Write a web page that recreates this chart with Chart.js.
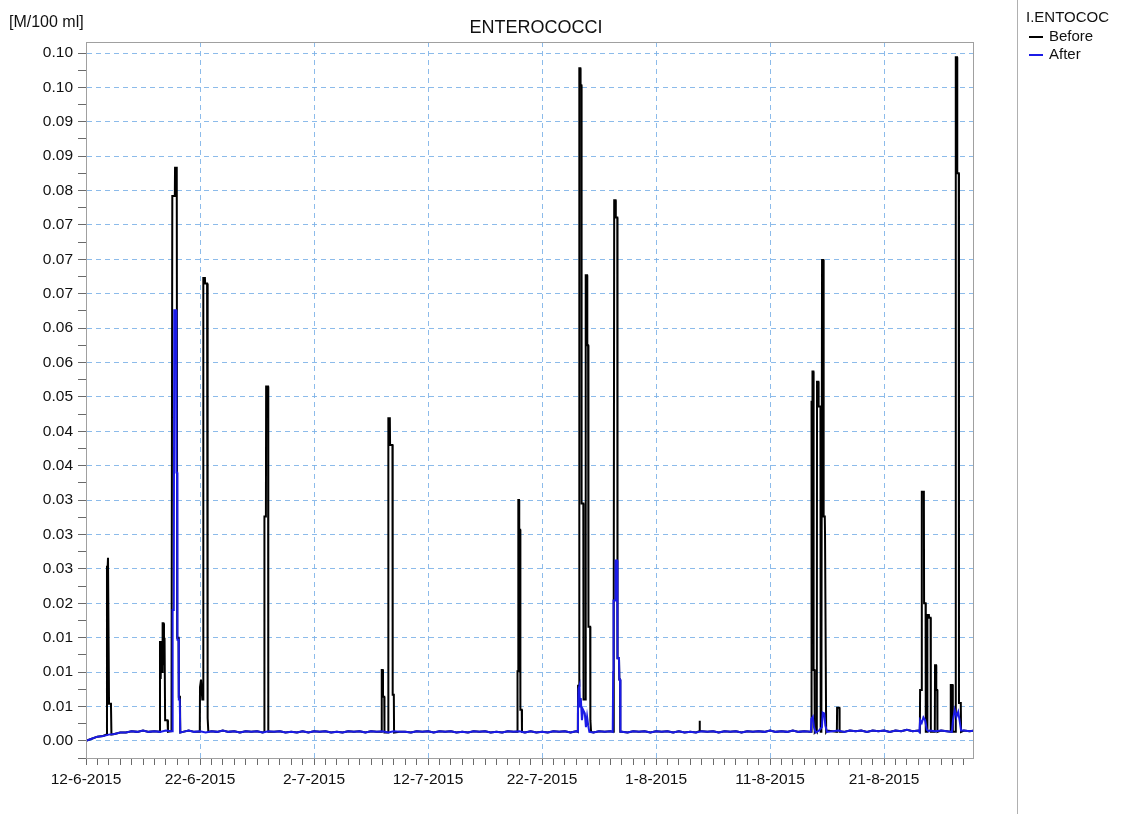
<!DOCTYPE html>
<html>
<head>
<meta charset="utf-8">
<script src="https://cdn.jsdelivr.net/npm/chart.js@4/dist/chart.umd.min.js"></script>
<style>
  html, body { margin: 0; padding: 0; background: #fff; }
  #wrap { position: relative; width: 1128px; height: 814px; }
</style>
</head>
<body>
<div id="wrap"><canvas id="chart"></canvas></div>
<script>
// ── Data (x = days since 12-6-2015, y = M/100 ml) ─────────────────
const xTickLabels = ['12-6-2015', '22-6-2015', '2-7-2015', '12-7-2015',
                     '22-7-2015', '1-8-2015', '11-8-2015', '21-8-2015'];
// bottom to top, one per 0.005 step
const yTickLabels = ['0.00', '0.01', '0.01', '0.01', '0.02', '0.03', '0.03',
                     '0.03', '0.04', '0.04', '0.05', '0.06', '0.06', '0.07',
                     '0.07', '0.07', '0.08', '0.09', '0.09', '0.10', '0.10'];

// background level, one value per half day (day 0 .. 78)
const baselineLevels = [
  0.0000, 0.0003, 0.0006, 0.0007, 0.0009, 0.0010, 0.0012, 0.0012, 0.0014,
  0.0013, 0.0015, 0.0013, 0.0014, 0.0013, 0.0015, 0.0014, 0.0014, 0.0013, 0.0015,
  0.0013, 0.0014, 0.0012, 0.0014, 0.0013, 0.0015, 0.0013, 0.0014, 0.0012, 0.0014,
  0.0013, 0.0014, 0.0012, 0.0014, 0.0013, 0.0014, 0.0012, 0.0013, 0.0012, 0.0014,
  0.0012, 0.0014, 0.0013, 0.0014, 0.0012, 0.0013, 0.0012, 0.0014, 0.0013, 0.0014,
  0.0012, 0.0014, 0.0013, 0.0014, 0.0012, 0.0014, 0.0013, 0.0013, 0.0012, 0.0014,
  0.0013, 0.0014, 0.0012, 0.0014, 0.0013, 0.0014, 0.0012, 0.0013, 0.0012, 0.0014,
  0.0013, 0.0014, 0.0012, 0.0013, 0.0012, 0.0014, 0.0013, 0.0014, 0.0012, 0.0014,
  0.0012, 0.0013, 0.0012, 0.0014, 0.0013, 0.0014, 0.0012, 0.0014, 0.0013, 0.0014,
  0.0012, 0.0014, 0.0013, 0.0014, 0.0012, 0.0013, 0.0012, 0.0014, 0.0013, 0.0014,
  0.0012, 0.0014, 0.0013, 0.0014, 0.0012, 0.0014, 0.0012, 0.0013, 0.0012, 0.0014,
  0.0013, 0.0014, 0.0012, 0.0014, 0.0013, 0.0014, 0.0012, 0.0014, 0.0013, 0.0014,
  0.0013, 0.0015, 0.0013, 0.0014, 0.0013, 0.0015, 0.0013, 0.0014, 0.0013, 0.0015,
  0.0013, 0.0015, 0.0014, 0.0015, 0.0013, 0.0015, 0.0014, 0.0015, 0.0013, 0.0015,
  0.0014, 0.0015, 0.0013, 0.0015, 0.0014, 0.0016, 0.0014, 0.0015, 0.0013, 0.0015,
  0.0014, 0.0015, 0.0014, 0.0016, 0.0014, 0.0015, 0.0014, 0.0015,
];

// peak events, [day, value] pairs
const beforeSpikes = [
  [[1.80, 0.0009], [1.84, 0.0253], [1.90, 0.0253], [1.93, 0.0266], [1.98, 0.0266],
   [2.02, 0.0054], [2.19, 0.0054], [2.23, 0.0009]],
  [[6.45, 0.0013], [6.49, 0.0145], [6.55, 0.0090], [6.60, 0.0145], [6.67, 0.0100],
   [6.72, 0.0171], [6.79, 0.0171], [6.84, 0.0110], [6.89, 0.0150], [6.94, 0.0030],
   [7.15, 0.0030], [7.19, 0.0013]],
  [[7.54, 0.0014], [7.57, 0.0792], [7.79, 0.0792], [7.81, 0.0833], [7.96, 0.0833],
   [8.00, 0.0150], [8.12, 0.0150], [8.14, 0.0064], [8.24, 0.0064], [8.27, 0.0012]],
  [[9.98, 0.0013], [10.00, 0.0078], [10.06, 0.0078], [10.09, 0.0089], [10.17, 0.0089],
   [10.20, 0.0060], [10.27, 0.0060], [10.29, 0.0673], [10.43, 0.0673], [10.45, 0.0665],
   [10.62, 0.0665], [10.64, 0.0033], [10.70, 0.0033], [10.73, 0.0013]],
  [[15.63, 0.0013], [15.65, 0.0326], [15.78, 0.0326], [15.80, 0.0515], [15.97, 0.0515],
   [15.99, 0.0013]],
  [[25.92, 0.0013], [25.94, 0.0103], [26.03, 0.0103], [26.05, 0.0064], [26.16, 0.0064],
   [26.18, 0.0012]],
  [[26.50, 0.0012], [26.52, 0.0469], [26.65, 0.0469], [26.67, 0.0430], [26.88, 0.0430],
   [26.90, 0.0067], [27.00, 0.0067], [27.02, 0.0012]],
  [[37.83, 0.0013], [37.85, 0.0101], [37.90, 0.0101], [37.92, 0.0350], [37.98, 0.0350],
   [38.00, 0.0307], [38.08, 0.0307], [38.10, 0.0045], [38.22, 0.0045], [38.24, 0.0013]],
  [[43.14, 0.0013], [43.16, 0.0080], [43.25, 0.0080], [43.27, 0.0978], [43.36, 0.0978],
   [43.38, 0.0953], [43.45, 0.0953], [43.47, 0.0345], [43.62, 0.0345], [43.64, 0.0060],
   [43.80, 0.0060], [43.83, 0.0677], [43.95, 0.0677], [43.97, 0.0575], [44.04, 0.0575],
   [44.06, 0.0562], [44.08, 0.0166], [44.22, 0.0166], [44.24, 0.0030], [44.30, 0.0013]],
  [[46.25, 0.0013], [46.27, 0.0204], [46.31, 0.0204], [46.33, 0.0786], [46.45, 0.0786],
   [46.47, 0.0761], [46.60, 0.0761], [46.62, 0.0120], [46.75, 0.0120], [46.78, 0.0089],
   [46.84, 0.0089], [46.86, 0.0013]],
  [[53.80, 0.0014], [53.81, 0.0029], [53.84, 0.0029], [53.85, 0.0014]],
  [[63.62, 0.0013], [63.64, 0.0493], [63.70, 0.0493], [63.72, 0.0537], [63.80, 0.0537],
   [63.82, 0.0103], [63.90, 0.0103], [63.92, 0.0013]],
  [[64.10, 0.0013], [64.12, 0.0522], [64.24, 0.0522], [64.26, 0.0486], [64.42, 0.0486],
   [64.44, 0.0013]],
  [[64.54, 0.0013], [64.56, 0.0699], [64.68, 0.0699], [64.70, 0.0326], [64.80, 0.0326],
   [64.82, 0.0302], [64.90, 0.0302], [64.92, 0.0013]],
  [[65.86, 0.0013], [65.88, 0.0048], [66.08, 0.0048], [66.10, 0.0013]],
  [[73.14, 0.0013], [73.16, 0.0074], [73.29, 0.0074], [73.31, 0.0362], [73.49, 0.0362],
   [73.51, 0.0200], [73.64, 0.0200], [73.66, 0.0013]],
  [[73.78, 0.0013], [73.80, 0.0183], [73.93, 0.0183], [73.95, 0.0179], [74.08, 0.0179],
   [74.10, 0.0013]],
  [[74.45, 0.0013], [74.47, 0.0110], [74.56, 0.0110], [74.58, 0.0074], [74.66, 0.0074],
   [74.68, 0.0013]],
  [[75.83, 0.0013], [75.85, 0.0081], [76.01, 0.0081], [76.03, 0.0013]],
  [[76.27, 0.0013], [76.29, 0.0994], [76.40, 0.0994], [76.42, 0.0825], [76.55, 0.0825],
   [76.57, 0.0055], [76.73, 0.0055], [76.75, 0.0013]],
];

const afterSpikes = [
  [[7.55, 0.0014], [7.60, 0.0190], [7.70, 0.0190], [7.74, 0.0626], [7.90, 0.0626],
   [7.93, 0.0390], [7.99, 0.0390], [8.02, 0.0147], [8.12, 0.0147], [8.14, 0.0060],
   [8.22, 0.0060], [8.27, 0.0012]],
  [[43.10, 0.0013], [43.15, 0.0040], [43.20, 0.0075], [43.28, 0.0080], [43.33, 0.0050],
   [43.40, 0.0062], [43.50, 0.0030], [43.60, 0.0045], [43.75, 0.0040], [43.85, 0.0020],
   [43.95, 0.0035], [44.05, 0.0022], [44.15, 0.0013]],
  [[46.20, 0.0013], [46.24, 0.0100], [46.27, 0.0204], [46.40, 0.0204], [46.45, 0.0262],
   [46.58, 0.0262], [46.62, 0.0120], [46.75, 0.0120], [46.78, 0.0089], [46.84, 0.0089],
   [46.88, 0.0013]],
  [[63.58, 0.0013], [63.62, 0.0032], [63.75, 0.0035], [63.85, 0.0020], [64.00, 0.0012],
   [64.30, 0.0015], [64.55, 0.0020], [64.62, 0.0041], [64.75, 0.0040], [64.85, 0.0022],
   [65.00, 0.0013]],
  [[73.10, 0.0013], [73.16, 0.0030], [73.30, 0.0026], [73.45, 0.0034], [73.60, 0.0030],
   [73.75, 0.0016], [73.90, 0.0014]],
  [[75.95, 0.0013], [76.05, 0.0030], [76.20, 0.0045], [76.35, 0.0035], [76.50, 0.0042],
   [76.62, 0.0030], [76.75, 0.0015]],
];

// baseline points outside the event windows plus the event points, sorted
function buildSeries(levels, events) {
  const pts = [];
  levels.forEach((v, i) => {
    const d = i / 2;
    const inside = events.some(ev => d >= ev[0][0] - 0.02 && d <= ev[ev.length - 1][0] + 0.02);
    if (!inside) pts.push({ x: d, y: v });
  });
  events.forEach(ev => ev.forEach(([d, v]) => pts.push({ x: d, y: v })));
  return pts.sort((a, b) => a.x - b.x);
}

const FONT = "'Liberation Sans', Arial, sans-serif";
const GRID_BLUE = 'rgba(120,175,230,0.85)';
const TICK_GRAY = '#6a6a6a';
const TEXT = '#111111';

// ── Inline plugin: frame, header texts and the side legend ───────
const decorPlugin = {
  id: 'decor',
  afterDraw(chart) {
    const { ctx, chartArea: A } = chart;
    ctx.save();
    ctx.strokeStyle = '#a0a0a0';
    ctx.lineWidth = 1;
    ctx.strokeRect(A.left + 0.5, A.top + 0.5, A.right - A.left, A.bottom - A.top);

    ctx.fillStyle = TEXT;
    ctx.textBaseline = 'middle';
    ctx.font = `16px ${FONT}`;
    ctx.textAlign = 'left';
    ctx.fillText('[M/100 ml]', 9, 23);

    ctx.font = `18px ${FONT}`;
    ctx.textAlign = 'center';
    ctx.fillText('ENTEROCOCCI', 536, 28);

    // legend panel
    ctx.strokeStyle = '#b0b0b0';
    ctx.beginPath();
    ctx.moveTo(1017.5, 0);
    ctx.lineTo(1017.5, chart.height);
    ctx.stroke();

    ctx.textAlign = 'left';
    ctx.font = `15px ${FONT}`;
    ctx.fillText('I.ENTOCOC', 1026, 18);
    chart.data.datasets.forEach((ds, i) => {
      const y = 37 + i * 18;
      ctx.strokeStyle = ds.borderColor;
      ctx.lineWidth = 2;
      ctx.beginPath();
      ctx.moveTo(1029, y);
      ctx.lineTo(1043, y);
      ctx.stroke();
      ctx.fillText(ds.label, 1049, y);
    });
    ctx.restore();
  },
};

new Chart(document.getElementById('chart'), {
  type: 'line',
  plugins: [decorPlugin],
  data: {
    datasets: [
      {
        label: 'Before',
        data: buildSeries(baselineLevels, beforeSpikes),
        borderColor: '#000000',
        borderWidth: 2,
        pointRadius: 0,
        tension: 0,
        order: 2,
      },
      {
        label: 'After',
        data: buildSeries(baselineLevels, afterSpikes),
        borderColor: '#1b1be6',
        borderWidth: 2,
        pointRadius: 0,
        tension: 0,
        order: 1,
      },
    ],
  },
  options: {
    responsive: true,
    maintainAspectRatio: false,
    animation: false,
    events: [],
    layout: { padding: { left: 10, right: 155, top: 42, bottom: 0 } },
    plugins: {
      legend: { display: false },
      title: { display: false },
      tooltip: { enabled: false },
    },
    scales: {
      x: {
        type: 'linear',
        min: 0,
        max: 77.8,
        afterFit(scale) { scale.height = 56; },
        ticks: {
          stepSize: 1,
          autoSkip: false,
          maxRotation: 0,
          includeBounds: false,
          padding: 5,
          color: TEXT,
          font: { family: FONT, size: 15.5 },
          callback(v) {
            return v % 10 === 0 ? xTickLabels[v / 10] : '';
          },
        },
        grid: {
          color: c => (c.tick && c.tick.value % 10 === 0 ? GRID_BLUE : 'rgba(0,0,0,0)'),
          tickColor: TICK_GRAY,
          tickLength: 7,
          lineWidth: 1,
        },
        border: { display: true, color: '#a0a0a0', dash: [5, 4] },
      },
      y: {
        type: 'linear',
        min: -0.0025,
        max: 0.1016,
        afterFit(scale) { scale.width = 76; },
        ticks: {
          stepSize: 0.0025,
          includeBounds: false,
          autoSkip: false,
          padding: 5,
          color: TEXT,
          font: { family: FONT, size: 15.5 },
          callback(v) {
            const k = Math.round(v / 0.0025);
            if (k < 0 || k % 2 !== 0) return '';
            return yTickLabels[k / 2] || '';
          },
        },
        grid: {
          color: c => {
            if (!c.tick) return 'rgba(0,0,0,0)';
            const k = Math.round(c.tick.value / 0.0025);
            return k >= 0 && k % 2 === 0 ? GRID_BLUE : 'rgba(0,0,0,0)';
          },
          tickColor: TICK_GRAY,
          tickLength: 8,
          lineWidth: 1,
        },
        border: { display: true, color: '#a0a0a0', dash: [5, 4] },
      },
    },
  },
});
</script>
</body>
</html>
